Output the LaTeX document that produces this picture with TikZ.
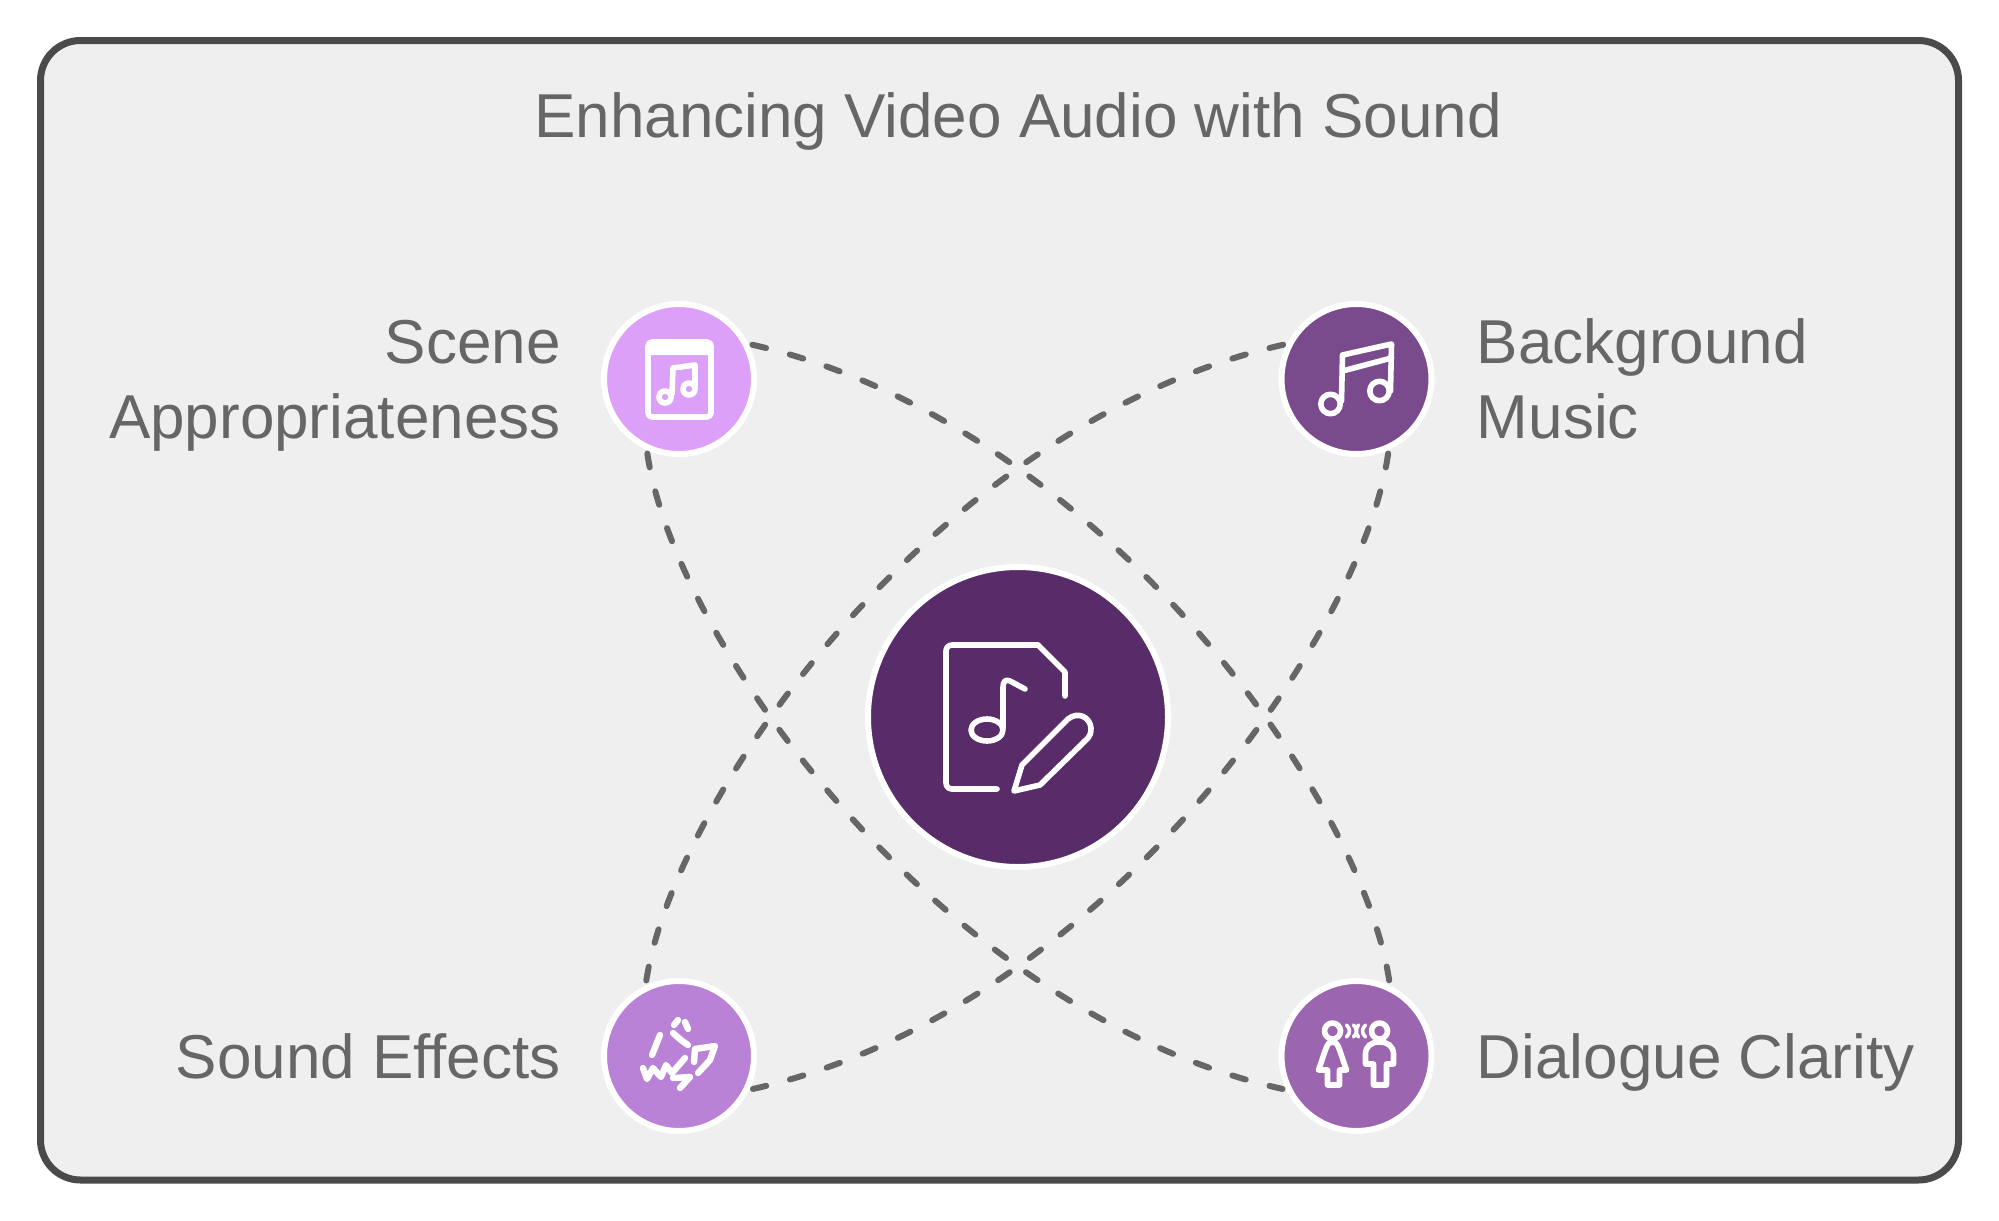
\documentclass[tikz,border=0pt]{standalone}
\usepackage{fontspec}
\setmainfont{Liberation Sans}
\usetikzlibrary{positioning}
\definecolor{panelbg}{HTML}{EFEFEF}
\definecolor{panelline}{HTML}{4A4A4A}
\definecolor{inktext}{HTML}{666666}
\definecolor{huecenter}{HTML}{572C68}
\definecolor{huescene}{HTML}{DDA0F8}
\definecolor{huemusic}{HTML}{7A4B8C}
\definecolor{hueeffects}{HTML}{BA82D6}
\definecolor{huedialogue}{HTML}{9B65B0}

\begin{document}
\begin{tikzpicture}[
		x=.5pt, y=-.5pt
		,spot/.style={circle, draw=white, line width=3pt, minimum size=75pt, inner sep=0pt, outer sep=3pt}
		,lab/.style={text=inktext, inner sep=0pt, text depth=0pt, font=\fontsize{31}{37.5}\selectfont}
		,link/.style={draw=inktext, line width=3pt, line cap=round, dash pattern=on 7pt off 12.3pt}
		,ico/.style={draw=white, line width=2.8pt, line cap=round, line join=round}
		,fat/.style={ico, line width=3.2pt}
		,thin/.style={ico, line width=1.8pt}
	]
	\useasboundingbox (0,0) rectangle (1999,1221);
	\draw [panelline, fill=panelbg, line width=3.5pt, rounded corners=20pt] (40.5,40.5) rectangle (1958.5,1180);
	\node [lab, text depth=.2em] (title) at (1018,117) {Enhancing Video Audio with Sound};

	\node [spot, fill=huescene] (scene) at (679,379) {};
	\node [spot, fill=huemusic] (music) at (1356.5,379) {};
	\node [spot, fill=hueeffects] (effects) at (679,1056) {};
	\node [spot, fill=huedialogue] (dialogue) at (1356.5,1056) {};
	\node [spot, fill=huecenter, minimum size=150pt] (hub) at (1018,717) {};

	\node [lab, align=right, left=18.5pt of scene] (sceneLabel) {Scene\\Appropriateness};
	\node [lab, align=left, right=19.5pt of music] (musicLabel) {Background\\Music};
	\node [lab, left=18.5pt of effects] (effectsLabel) {Sound Effects};
	\node [lab, right=19.5pt of dialogue] (dialogueLabel) {Dialogue Clarity};

	% arcs between the outer circles
	\draw [link] (scene.25) .. controls (1093,422) and (1361.5,792) .. (dialogue.66);
	\draw [link] (scene.247) .. controls (674.5,643) and (943,1013) .. (dialogue.204);
	\draw [link] (music.155) .. controls (943,422) and (674.5,792) .. (effects.114);
	\draw [link] (music.293) .. controls (1361.5,643) and (1093,1013) .. (effects.336);

	% icons
	\begin{scope}[shift={(scene.center)}]
		\draw [ico, rounded corners=2pt] (-31,-37) rectangle (32,38);
		\fill [white, rounded corners=1pt] (-31,-37) -- (35,-37) -- (32,-31) -- (34,-28) -- (32,-24) -- (-31,-24) -- cycle;
		\draw [ico] (-14,18) circle (6);
		\draw [ico] (10,10) circle (6);
		\draw [ico] (-7,15) -- (-6,-11) -- (16,-14) -- (16,9);
	\end{scope}
	\begin{scope}[shift={(music.center)}]
		\draw [ico] (-26,25) circle (9.7);
		\draw [ico] (23,12) circle (9.7);
		\draw [ico] (-15,22) -- (-14,-24) -- (35,-35) -- (34,12);
		\draw [ico] (-14,-8) -- (35,-21);
	\end{scope}
	\begin{scope}[shift={(effects.center)}]
		\draw [fat] (-19,-21) -- (-27,-1);
		\draw [fat] (-6,-23) -- (2,-16) -- (9,-11);
		\draw [fat] (-5,-31) -- (-1,-36);
		\draw [fat] (6,-34) -- (9,-27);
		\draw [fat] (-36,12) -- (-32,23) -- (-26,12) -- (-18,21) -- (-13,9) -- (-7,17) -- (6,2);
		\draw [fat] (-6,22) -- (11,21) -- (1,32);
		\draw [fat] (15,6) -- (16,-7) -- (36,-10) -- (31,4) -- (19,17);
	\end{scope}
	\begin{scope}[shift={(dialogue.center)}]
		\draw [ico] (-24,-25) circle (8);
		\draw [ico] (23,-25) circle (8);
		\draw [ico] (-24,-14) .. controls (-30,-14) and (-30,-8) .. (-38,14) -- (-29,14) -- (-29,29) -- (-17,29) -- (-17,14) -- (-10,14) .. controls (-18,-8) and (-18,-14) .. cycle;
		\draw [ico] (17,29) -- (17,8) -- (9,8) -- (9,-2) .. controls (9,-10) and (15,-14) .. (23,-14) .. controls (31,-14) and (37,-10) .. (37,-2) -- (37,8) -- (30,8) -- (30,29) -- cycle;
		\draw [thin] (-10,-31) .. controls (-6,-27) and (-6,-23) .. (-10,-19);
		\draw [thin] (-3,-31) .. controls (1,-27) and (1,-23) .. (-3,-19);
		\draw [thin] (9,-31) .. controls (5,-27) and (5,-23) .. (9,-19);
		\draw [thin] (2,-31) .. controls (-1,-27) and (-1,-23) .. (2,-19);
	\end{scope}
	\begin{scope}[shift={(hub.center)}]
		\draw [ico, rounded corners=3pt] (-21,72) -- (-72,72) -- (-72,-72) -- (20,-72);
		\draw [ico] (20,-72) -- (47,-45) -- (47,-21);
		\draw [ico] (-31,13) ellipse (16 and 11);
		\draw [ico] (-15,11) -- (-15,-30) .. controls (-15,-36) and (-12,-38) .. (-8,-36) -- (7,-28);
		\draw [ico] (-4,74) -- (4,48) -- (50,2) .. controls (60,-6) and (72,0) .. (73,11) .. controls (73,16) and (72,19) .. (70,21) -- (22,68) -- cycle;
	\end{scope}
\end{tikzpicture}
\end{document}
